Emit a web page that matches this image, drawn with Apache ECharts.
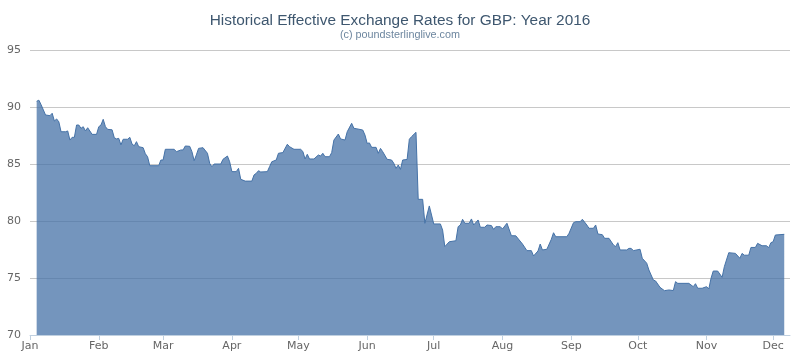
<!DOCTYPE html>
<html>
<head>
<meta charset="utf-8">
<script src="https://cdn.jsdelivr.net/npm/echarts@6/dist/echarts.min.js"></script>
<style>html,body{margin:0;padding:0;background:#fff}#c{width:800px;height:361px}</style>
</head>
<body>
<div id="c"></div>
<script>
const titleText = 'Historical Effective Exchange Rates for GBP: Year 2016';
const subtitleText = '(c) poundsterlinglive.com';
const monthLabels = ['Jan','Feb','Mar','Apr','May','Jun','Jul','Aug','Sep','Oct','Nov','Dec'];
const yTicks = [70, 75, 80, 85, 90, 95];

const dates = [
'2016-01-04','2016-01-05','2016-01-06','2016-01-08','2016-01-10','2016-01-11','2016-01-12','2016-01-13','2016-01-14','2016-01-15',
'2016-01-17','2016-01-18','2016-01-19','2016-01-20','2016-01-21','2016-01-22','2016-01-23','2016-01-24','2016-01-25','2016-01-26',
'2016-01-27','2016-01-29','2016-01-31','2016-02-01','2016-02-02','2016-02-03','2016-02-04','2016-02-05','2016-02-07','2016-02-08',
'2016-02-09','2016-02-10','2016-02-11','2016-02-12','2016-02-14','2016-02-15','2016-02-16','2016-02-17','2016-02-18','2016-02-19',
'2016-02-21','2016-02-22','2016-02-23','2016-02-24','2016-02-28','2016-02-29','2016-03-01','2016-03-02','2016-03-06','2016-03-07',
'2016-03-09','2016-03-10','2016-03-11','2016-03-13','2016-03-14','2016-03-15','2016-03-16','2016-03-17','2016-03-19','2016-03-21',
'2016-03-22','2016-03-23','2016-03-24','2016-03-27','2016-03-28','2016-03-30','2016-03-31','2016-04-01','2016-04-03','2016-04-04',
'2016-04-05','2016-04-07','2016-04-10','2016-04-11','2016-04-12','2016-04-13','2016-04-14','2016-04-17','2016-04-18','2016-04-19',
'2016-04-21','2016-04-22','2016-04-24','2016-04-26','2016-04-27','2016-04-29','2016-05-02','2016-05-03','2016-05-04','2016-05-05',
'2016-05-06','2016-05-08','2016-05-10','2016-05-11','2016-05-12','2016-05-13','2016-05-15','2016-05-16','2016-05-17','2016-05-19',
'2016-05-20','2016-05-22','2016-05-23','2016-05-25','2016-05-26','2016-05-27','2016-05-30','2016-05-31','2016-06-01','2016-06-02',
'2016-06-03','2016-06-05','2016-06-06','2016-06-07','2016-06-08','2016-06-10','2016-06-12','2016-06-13','2016-06-14','2016-06-15',
'2016-06-16','2016-06-17','2016-06-19','2016-06-20','2016-06-21','2016-06-23','2016-06-24','2016-06-26','2016-06-27','2016-06-29',
'2016-07-01','2016-07-04','2016-07-05','2016-07-06','2016-07-08','2016-07-11','2016-07-12','2016-07-13','2016-07-14','2016-07-15',
'2016-07-17','2016-07-18','2016-07-19','2016-07-21','2016-07-22','2016-07-24','2016-07-25','2016-07-27','2016-07-28','2016-07-29',
'2016-07-31','2016-08-01','2016-08-03','2016-08-05','2016-08-07','2016-08-10','2016-08-12','2016-08-14','2016-08-15','2016-08-17',
'2016-08-18','2016-08-19','2016-08-21','2016-08-23','2016-08-24','2016-08-25','2016-08-30','2016-08-31','2016-09-02','2016-09-03',
'2016-09-05','2016-09-06','2016-09-08','2016-09-09','2016-09-11','2016-09-12','2016-09-13','2016-09-15','2016-09-16','2016-09-18',
'2016-09-20','2016-09-21','2016-09-22','2016-09-23','2016-09-26','2016-09-27','2016-09-28','2016-09-29','2016-10-02','2016-10-03',
'2016-10-05','2016-10-06','2016-10-08','2016-10-09','2016-10-11','2016-10-13','2016-10-15','2016-10-17','2016-10-18','2016-10-19',
'2016-10-24','2016-10-26','2016-10-27','2016-10-28','2016-10-30','2016-11-01','2016-11-02','2016-11-03','2016-11-04','2016-11-06',
'2016-11-08','2016-11-09','2016-11-11','2016-11-14','2016-11-16','2016-11-17','2016-11-18','2016-11-20','2016-11-21','2016-11-23',
'2016-11-24','2016-11-26','2016-11-28','2016-11-29','2016-11-30','2016-12-01','2016-12-02','2016-12-06'
];

const values = [
90.5,90.6,90.2,89.3,89.24,89.45,88.77,88.95,88.7,87.83,
87.83,87.9,87.1,87.34,87.34,88.42,88.42,88.13,88.27,87.9,
88.18,87.6,87.6,88.27,88.42,88.92,88.27,88.04,88.0,87.3,
87.2,87.25,86.67,87.17,87.17,87.34,86.75,86.6,86.96,86.52,
86.43,85.9,85.64,84.85,84.85,85.35,85.35,86.29,86.29,86.08,
86.23,86.23,86.58,86.55,86.08,85.29,85.8,86.37,86.43,85.94,
85.06,84.76,85.0,85.0,85.41,85.7,85.2,84.33,84.33,84.62,
83.66,83.5,83.5,84.04,84.18,84.41,84.3,84.33,84.77,85.2,
85.35,85.94,86.0,86.73,86.52,86.29,86.29,86.1,85.44,85.85,
85.44,85.44,85.79,85.7,85.94,85.64,85.64,86.0,87.1,87.63,
87.2,87.1,87.83,88.57,88.13,88.1,87.98,87.54,86.81,86.85,
86.46,86.46,85.94,86.37,86.08,85.41,85.35,85.06,84.62,84.91,
84.53,85.35,85.4,87.17,87.4,87.78,81.9,81.9,79.8,81.32,
79.74,79.74,79.2,77.75,78.18,78.27,79.5,79.65,80.15,79.8,
79.8,80.18,79.65,80.09,79.45,79.45,79.65,79.6,79.27,79.5,
79.5,79.3,79.8,78.71,78.7,77.98,77.4,77.4,76.93,77.37,
77.98,77.46,77.52,78.39,78.97,78.62,78.62,78.92,79.85,79.94,
79.94,80.15,79.65,79.36,79.36,79.65,78.86,78.8,78.48,78.48,
77.9,77.75,78.1,77.46,77.46,77.6,77.6,77.4,77.52,76.73,
76.3,75.7,74.82,74.74,74.18,73.89,73.95,73.9,74.68,74.53,
74.53,74.24,74.5,74.1,74.1,74.24,74.04,74.97,75.61,75.61,
75.06,75.99,77.22,77.16,76.73,77.16,77.0,77.0,77.68,77.68,
78.04,77.83,77.83,77.66,78.1,78.18,78.77,78.83
];

const DAY = 86400000;
const yearStart = Date.UTC(2016, 0, 1);
const monthStarts = monthLabels.map((m, i) => Date.UTC(2016, i, 1));
const seriesData = dates.map((d, i) => [Date.parse(d + 'T00:00:00Z'), values[i]]);

const chart = echarts.init(document.getElementById('c'), null, {renderer: 'canvas'});
chart.setOption({
  animation: false,
  backgroundColor: '#ffffff',
  title: [
    {text: titleText, left: 'center', top: 8,
     textStyle: {fontFamily: 'Liberation Sans', fontSize: 15.4, fontWeight: 'normal', color: '#3E576F'}},
    {text: subtitleText, left: 'center', top: 25,
     textStyle: {fontFamily: 'Liberation Sans', fontSize: 10.8, fontWeight: 'normal', color: '#6D869F'}}
  ],
  grid: {left: 30, right: 10, top: 50, bottom: 26, containLabel: false},
  xAxis: {
    type: 'value',
    min: yearStart,
    max: yearStart + 342.6 * DAY,
    axisLine: {show: true, lineStyle: {color: '#C0D0E0', width: 1}},
    axisTick: {show: true, length: 5, lineStyle: {color: '#C0D0E0'}, customValues: monthStarts},
    axisLabel: {
      customValues: monthStarts,
      margin: 6,
      color: '#666666',
      fontFamily: 'DejaVu Sans',
      fontSize: 11,
      formatter: function (v) { return monthLabels[new Date(v).getUTCMonth()]; }
    },
    splitLine: {show: false}
  },
  yAxis: {
    type: 'value',
    min: yTicks[0],
    max: yTicks[yTicks.length - 1],
    interval: 5,
    axisLine: {show: false},
    axisTick: {show: false},
    axisLabel: {color: '#666666', fontFamily: 'DejaVu Sans', fontSize: 11, margin: 9},
    splitLine: {show: true, lineStyle: {color: '#C8C8C8', width: 1}}
  },
  series: [{
    type: 'line',
    data: seriesData,
    showSymbol: false,
    symbol: 'none',
    smooth: false,
    lineStyle: {color: '#4572A7', width: 1},
    areaStyle: {color: '#4572A7', opacity: 0.75},
    itemStyle: {color: '#4572A7'}
  }]
});
</script>
</body>
</html>
